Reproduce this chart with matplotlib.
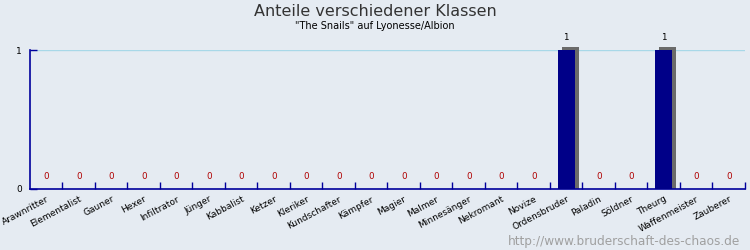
import numpy as np
import matplotlib.pyplot as plt

klassen = ["Arawnritter", "Elementalist", "Gauner", "Hexer", "Infiltrator", "Jünger",
           "Kabbalist", "Ketzer", "Kleriker", "Kundschafter", "Kämpfer", "Magier",
           "Malmer", "Minnesänger", "Nekromant", "Novize", "Ordensbruder", "Paladin",
           "Söldner", "Theurg", "Waffenmeister", "Zauberer"]
anzahl = [0, 0, 0, 0, 0, 0, 0, 0, 0, 0, 0, 0, 0, 0, 0, 0, 1, 0, 0, 1, 0, 0]

bg = "#e5ebf2"
axis_col = "#00009c"

fig = plt.figure(figsize=(7.5, 2.5), dpi=100, facecolor=bg)
ax = fig.add_axes([0.04, 0.244, 0.9533, 0.556], facecolor=bg)

x = np.arange(len(klassen)) + 0.5
w = 0.53
# schatten zuerst, dann balken
ax.bar(x + 0.12, np.array(anzahl) * 1.025, width=w, color="#6a6a6a", zorder=2,
       clip_on=False)
ax.bar(x, anzahl, width=w, color="#000088", zorder=3)

for xi, v in zip(x, anzahl):
    if v == 0:
        ax.text(xi, 0.06, str(v), ha="center", va="bottom", fontsize=6.3,
                color="#b00000", zorder=4)
    else:
        ax.text(xi, v + 0.06, str(v), ha="center", va="bottom", fontsize=6.3,
                color="black", clip_on=False, zorder=4)

ax.axhline(1, color="#a8d8e8", lw=1, zorder=1)

ax.set_xlim(0, len(klassen))
ax.set_ylim(0, 1)
ax.set_yticks([0, 1])
ax.set_yticklabels(["0", "1"], fontsize=6.5)
ax.set_xticks(np.arange(1, len(klassen) + 1))
ax.set_xticklabels([])
ax.set_xticks(x, minor=True)
ax.set_xticklabels(klassen, minor=True, rotation=28, ha="right",
                   rotation_mode="anchor", fontsize=6.5)
ax.tick_params(axis="x", which="major", direction="in", length=5,
               color=axis_col, width=1)
ax.tick_params(axis="x", which="minor", length=0, pad=4)
ax.tick_params(axis="y", direction="in", length=5, color=axis_col, width=1, pad=6)

for s in ["top", "right"]:
    ax.spines[s].set_visible(False)
for s in ["left", "bottom"]:
    ax.spines[s].set_color(axis_col)
    ax.spines[s].set_linewidth(1.2)

fig.text(0.5, 0.935, "Anteile verschiedener Klassen", ha="center",
         fontsize=11.5, color="#333333")
fig.text(0.5, 0.885, "\"The Snails\" auf Lyonesse/Albion", ha="center",
         fontsize=7, color="black")
fig.text(0.987, 0.02, "http://www.bruderschaft-des-chaos.de", ha="right",
         fontsize=8.7, color="#a0a0a0")

fig.savefig("out.png", dpi=100, facecolor=bg)
